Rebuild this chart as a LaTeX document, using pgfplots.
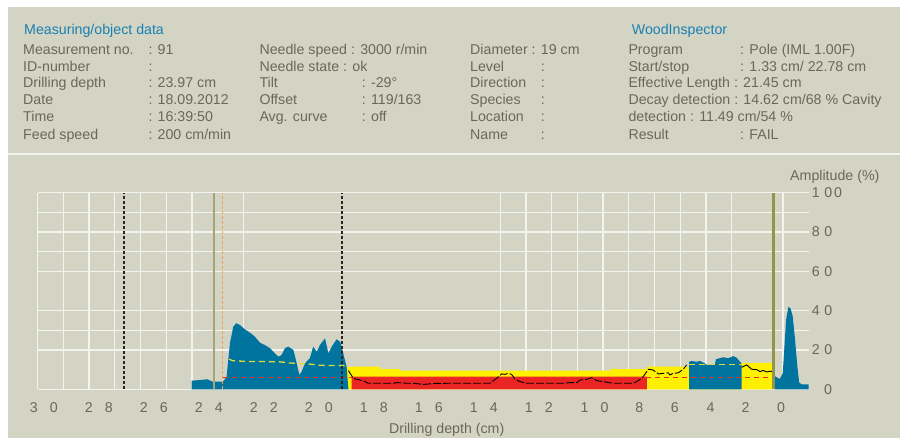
\documentclass[border=0pt]{standalone}
\usepackage{fontspec}
\setmainfont{Liberation Sans}
\usepackage{pgfplots}
\pgfplotsset{compat=1.18}
\definecolor{bg}{RGB}{212,212,197}
\definecolor{txt}{RGB}{105,105,85}
\definecolor{ttl}{RGB}{25,128,178}
\definecolor{gridc}{RGB}{244,244,238}
\definecolor{wblue}{RGB}{0,115,158}
\definecolor{wyel}{RGB}{255,240,0}
\definecolor{wred}{RGB}{235,36,36}
\definecolor{olivL}{RGB}{165,165,120}
\definecolor{olivD}{RGB}{145,150,75}
\definecolor{orng}{RGB}{240,160,80}
\definecolor{avgy}{RGB}{222,222,50}
\definecolor{dashr}{RGB}{230,50,40}
\newcommand{\dd}[2]{#1\hspace{12.2pt}#2}
\tikzset{h/.style={anchor=base west, inner sep=0pt, text=txt}}
\begin{document}
\begin{tikzpicture}[x=1pt,y=1pt,font=\fontsize{14.2}{17}\selectfont]
\useasboundingbox (0,0) rectangle (900,438);
\fill[white] (0,0) rectangle (900,438);
\fill[bg] (8,0) rectangle (900,431);
\draw[gridc, line width=1.2pt] (8,284) -- (900,284);
% header left
\node[h,text=ttl] at (24,403) {Measuring/object data};
\node[h] at (23,383.7) {Measurement no.}; \node[h] at (148.3,383.7) {: 91};
\node[h] at (23,366.7) {ID-number};       \node[h] at (148.3,366.7) {:};
\node[h] at (23,350)   {Drilling depth};  \node[h] at (148.3,350) {: 23.97 cm};
\node[h] at (23,333.3) {Date};            \node[h] at (148.3,333.3) {: 18.09.2012};
\node[h] at (23,316.7) {Time};            \node[h] at (148.3,316.7) {: 16:39:50};
\node[h] at (23,298.3) {Feed speed};      \node[h] at (148.3,298.3) {: 200 cm/min};
% header middle
\node[h] at (259.3,383.7) {Needle speed : 3000 r/min};
\node[h] at (259.3,366.7) {Needle state : ok};
\node[h] at (259.3,350)   {Tilt};       \node[h] at (361.7,350) {: -29°};
\node[h] at (259.3,333.3) {Offset};     \node[h] at (361.7,333.3) {: 119/163};
\node[h] at (259.3,316.7) {Avg. curve}; \node[h] at (361.7,316.7) {: off};
% header right
\node[h] at (470,383.7) {Diameter : 19 cm};
\node[h] at (470,366.7) {Level};     \node[h] at (540.7,366.7) {:};
\node[h] at (470,350)   {Direction}; \node[h] at (540.7,350) {:};
\node[h] at (470,333.3) {Species};   \node[h] at (540.7,333.3) {:};
\node[h] at (470,316.7) {Location};  \node[h] at (540.7,316.7) {:};
\node[h] at (470,298.3) {Name};      \node[h] at (540.7,298.3) {:};
\node[h,text=ttl] at (631.7,403) {WoodInspector};
\node[h] at (628.3,383.7) {Program};    \node[h] at (740,383.7) {: Pole (IML 1.00F)};
\node[h] at (628.3,366.7) {Start/stop}; \node[h] at (740,366.7) {: 1.33 cm/ 22.78 cm};
\node[h] at (628.3,350)   {Effective Length : 21.45 cm};
\node[h] at (628.3,333.3) {Decay detection : 14.62 cm/68 \% Cavity};
\node[h] at (628.3,316.7) {detection : 11.49 cm/54 \%};
\node[h] at (628.3,298.3) {Result};     \node[h] at (740,298.3) {: FAIL};
\begin{axis}[
  at={(37.7pt,48.7pt)}, anchor=south west, scale only axis,
  width=771pt, height=196.6pt,
  xmin=0, xmax=30, ymin=0, ymax=100, x dir=reverse,
  axis line style={draw=none},
  major tick length=0pt, minor tick length=0pt,
  xtick={29.759,27.619,25.479,23.339,21.198,19.058,16.918,14.778,12.638,10.498,8.331,6.595,5.206,3.817,2.455,1.070},
  xticklabels={{\dd30},{\dd28},{\dd26},{\dd24},{\dd22},{\dd20},{\dd18},{\dd16},{\dd14},{\dd12},{\dd10},8,6,4,2,0},
  ytick={0,20,40,60,80,100},
  yticklabels={{\hspace*{12.3pt}0},{2\hspace{4.5pt}0},{4\hspace{4.5pt}0},{6\hspace{4.5pt}0},{8\hspace{4.5pt}0},{1\hspace{4.5pt}0\hspace{2pt}0}},
  yticklabel pos=right,
  xticklabel style={anchor=north, inner sep=0pt, yshift=-13.4pt, text=txt, font=\fontsize{14.2}{17}\selectfont},
  yticklabel style={anchor=west, inner sep=0pt, xshift=3pt, text=txt, font=\fontsize{14.2}{17}\selectfont},
  extra x ticks={30,29,28,27,26,25,24,22,12,11,10,9,8,7,6,5,4,3,1},
  extra x tick labels={},
  extra y ticks={0,20,30,40,60,70,80,90,100},
  extra y tick labels={},
  extra tick style={grid=major},
  grid style={gridc, line width=1.3pt},
]
% yellow zone
\addplot[fill=wyel, draw=none] coordinates {
 (17.98,0) (17.98,11.5) (16.68,11.5) (16.68,10.2) (15.91,10.2) (15.91,9.5)
 (7.72,9.5) (7.72,10.2) (6.30,10.2) (6.30,11.5) (2.61,11.5) (2.61,13.5)
 (1.36,13.5) (1.36,0)} \closedcycle;
% red zone
\addplot[fill=wred, draw=none] coordinates {
 (17.78,0) (17.78,6.4) (6.30,6.4) (6.30,0)} \closedcycle;
% amplitude, left section
\addplot[fill=wblue, draw=none] coordinates {
 (24.01,0) (24.01,4.4) (23.69,4.7) (23.40,5.1) (23.20,3.9) (22.90,3.9) (22.78,4.0)
 (22.65,6.4) (22.52,23.4) (22.39,31.8) (22.28,33.6) (22.13,32.7) (21.94,30.5)
 (21.74,28.8) (21.55,26.8) (21.35,23.7) (21.16,22.5) (20.96,20.9) (20.77,18.3)
 (20.64,16.6) (20.51,17.4) (20.38,20.9) (20.25,21.7) (20.05,20.0) (19.92,13.2)
 (19.82,7.3) (19.73,9.0) (19.60,13.2) (19.41,15.8) (19.28,21.7) (19.14,19.1)
 (19.02,22.5) (18.82,25.9) (18.69,18.3) (18.56,21.7) (18.37,25.4) (18.23,24.2)
 (18.11,18.3) (17.98,11.5) (17.91,0)} \closedcycle;
% amplitude, middle-right section
\addplot[fill=wblue, draw=none] coordinates {
 (4.65,0) (4.65,14.0) (4.55,14.4) (4.36,14.0) (4.23,14.4) (4.04,13.2) (3.97,12.4)
 (3.65,12.4) (3.61,15.3) (3.32,16.3) (3.13,15.8) (2.93,16.9) (2.80,16.0)
 (2.67,14.0) (2.61,13.0) (2.61,0)} \closedcycle;
% amplitude, right end
\addplot[fill=wblue, draw=none] coordinates {
 (1.33,0) (1.33,6.8) (1.18,5.6) (1.12,5.4) (1.01,8.1) (0.96,18.3) (0.88,35.2)
 (0.79,42.0) (0.70,41.0) (0.62,36.9) (0.53,25.1) (0.44,11.5) (0.37,3.4)
 (0.27,2.5) (0.00,2.5) (0.00,0)} \closedcycle;
% red dashed threshold
\addplot[dashr, line width=1pt, dash pattern=on 5pt off 4pt] coordinates {(22.78,6.1) (1.36,6.1)};
% yellow dashed averages
\addplot[avgy, line width=1.3pt, dash pattern=on 6pt off 4pt] coordinates {
 (22.55,15.3) (22.40,14.5) (21.90,14.2) (20.60,14.0) (20.20,13.4) (19.40,12.8) (19.00,12.2) (17.95,12.0)};
\addplot[avgy, line width=1.3pt, dash pattern=on 6pt off 4pt] coordinates {(4.65,12.5) (2.61,12.5)};
% black curve
\addplot[black, line width=0.9pt, dash pattern=on 8pt off 2pt] coordinates {
 (17.91,9.5) (17.72,5.6) (17.59,5.1) (17.33,4.4) (17.14,3.05) (16.16,3.05) (16.03,3.4)
 (15.64,3.1) (15.39,3.05) (15.00,2.5) (14.47,3.0) (14.09,3.05) (12.40,3.05) (12.14,5.6)
 (11.95,7.8) (11.82,7.6) (11.69,8.1) (11.56,7.6) (11.43,5.1) (11.23,3.9) (10.97,3.05)
 (9.55,3.05) (9.29,3.4) (9.02,3.4) (8.90,4.7) (8.64,5.1) (8.44,5.9) (8.25,4.4)
 (7.99,3.9) (7.60,3.05) (6.82,3.05) (6.63,4.4) (6.44,6.4) (6.24,10.2) (6.05,9.8)
 (5.85,7.8) (5.66,8.1) (5.46,8.4) (5.40,7.3) (5.27,8.1) (5.07,8.4) (4.88,10.2) (4.75,12.4)};
\addplot[black, line width=0.9pt] coordinates {
 (2.61,11.2) (2.41,12.4) (2.22,10.2) (2.02,10.0) (1.89,9.0) (1.77,9.6) (1.63,8.8) (1.51,9.2) (1.39,9.0)};
% vertical markers
\addplot[black!85, line width=1.3pt, dash pattern=on 3pt off 2pt] coordinates {(26.64,0) (26.64,100)};
\addplot[black!85, line width=1.3pt, dash pattern=on 3pt off 2pt] coordinates {(18.16,0) (18.16,100)};
\addplot[olivL, line width=2pt] coordinates {(23.15,0) (23.15,100)};
\addplot[orng, line width=1.3pt, dash pattern=on 3pt off 2pt] coordinates {(22.80,0) (22.80,100)};
\addplot[olivD, line width=2.7pt] coordinates {(1.37,0) (1.37,100)};
\end{axis}
\node[anchor=base west, inner sep=0pt, text=txt] at (790,257.3) {Amplitude (\%)};
\node[anchor=base, inner sep=0pt, text=txt] at (446.7,4) {Drilling depth (cm)};
\end{tikzpicture}
\end{document}
